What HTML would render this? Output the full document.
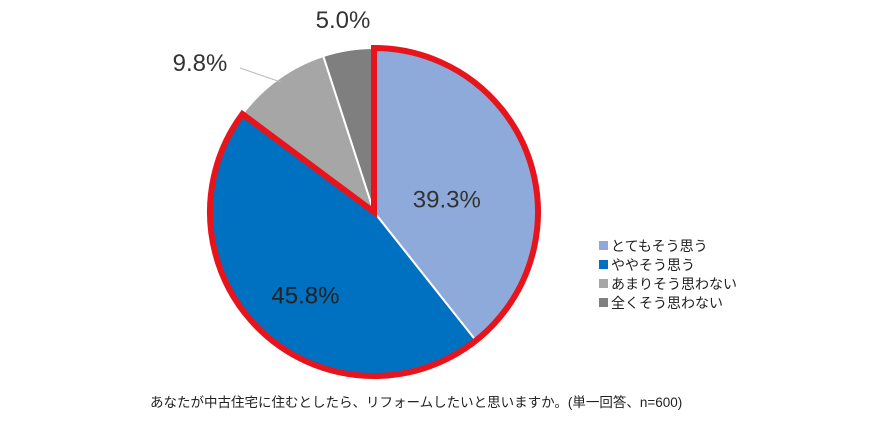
<!DOCTYPE html>
<html><head><meta charset="utf-8"><style>
html,body{margin:0;padding:0;background:#fff;width:870px;height:423px;overflow:hidden}
svg text{font-family:"Liberation Sans","Noto Sans CJK JP",sans-serif}
</style></head><body>
<svg id="chart" width="870" height="423">
<g id="slices"></g>
<g id="outline"></g>
<g id="labels"></g>
<g id="legend"></g>
<text x="150" y="407" font-size="13.5" fill="#222">あなたが中古住宅に住むとしたら、リフォームしたいと思いますか。(単一回答、n=600)</text>
</svg>
<script>
const categories=["とてもそう思う","ややそう思う","あまりそう思わない","全くそう思わない"];
const values=[39.3,45.8,9.8,5.0];
const colors=["#8eaadb","#0070c0","#a6a6a6","#7f7f7f"];
const NS="http://www.w3.org/2000/svg";
const cx=374,cy=212,r=164;
const total=values.reduce((a,b)=>a+b,0);
function pt(a,rr){return [cx+rr*Math.sin(a),cy-rr*Math.cos(a)];}
function arcPath(a0,a1){const p0=pt(a0,r),p1=pt(a1,r);const large=(a1-a0)>Math.PI?1:0;
return `M${cx},${cy} L${p0[0]},${p0[1]} A${r},${r} 0 ${large} 1 ${p1[0]},${p1[1]} Z`;}
const sg=document.getElementById('slices'),lg=document.getElementById('labels'),leg=document.getElementById('legend');
let a=0;const angles=[];
values.forEach((v,i)=>{const a1=a+v/total*2*Math.PI;angles.push([a,a1]);
const p=document.createElementNS(NS,'path');p.setAttribute('d',arcPath(a,a1));p.setAttribute('fill',colors[i]);p.setAttribute('stroke','#fff');p.setAttribute('stroke-width','2');


sg.appendChild(p);a=a1;});
const o=document.createElementNS(NS,'path');o.setAttribute('d',arcPath(angles[0][0],angles[1][1]));o.setAttribute('fill','none');o.setAttribute('stroke','#e8141c');o.setAttribute('stroke-width','6');o.setAttribute('stroke-linejoin','miter');


document.getElementById('outline').appendChild(o);
values.forEach((v,i)=>{const m=(angles[i][0]+angles[i][1])/2;let pos;
if(i===0){pos=pt(m,r*0.47);pos[1]+=13;}else if(i===1){pos=pt(m,r*0.6);pos[1]+=13;}else if(i===2){pos=[200,63];}else{pos=[343,20];}
const t=document.createElementNS(NS,'text');t.setAttribute('x',pos[0]);t.setAttribute('y',pos[1]+8);t.setAttribute('text-anchor','middle');t.setAttribute('font-size','24');t.setAttribute('fill',i===1?'#222':'#333');
t.textContent=v.toFixed(1)+'%';


lg.appendChild(t);
if(i===2){const l=document.createElementNS(NS,'line');const e=pt(m,r-4);l.setAttribute('x1',240);l.setAttribute('y1',68);l.setAttribute('x2',e[0]);l.setAttribute('y2',e[1]);l.setAttribute('stroke','#bbb');l.setAttribute('stroke-width','1');


lg.appendChild(l);}
});
categories.forEach((c,i)=>{const y=246+i*19;
const s=document.createElementNS(NS,'rect');s.setAttribute('x',599);s.setAttribute('y',y-5);s.setAttribute('width',9);s.setAttribute('height',9);s.setAttribute('fill',colors[i]);


leg.appendChild(s);
const t=document.createElementNS(NS,'text');t.setAttribute('x',611);t.setAttribute('y',y+5);t.setAttribute('font-size','14');t.setAttribute('fill','#222');t.textContent=c;


leg.appendChild(t);});
</script>
</body></html>
